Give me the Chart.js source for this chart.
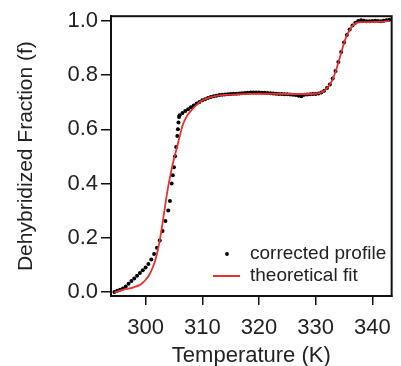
<!DOCTYPE html>
<html>
<head>
<meta charset="utf-8">
<script src="https://cdn.jsdelivr.net/npm/chart.js@4.4.1/dist/chart.umd.min.js"></script>
<style>
  html, body { margin: 0; padding: 0; background: #fff; }
  #wrap { width: 401px; height: 366px; }
</style>
</head>
<body>
<div id="wrap"><canvas id="meltChart" width="401" height="366"></canvas></div>
<script>
// measured profile (temperature in K, dehybridized fraction)
const profileTemps = [
  294.5, 295.0, 295.5, 296.0, 296.5, 297.0, 297.5, 298.0, 298.5, 299.0, 299.5,
  300.0, 300.5, 301.0, 301.5, 302.0, 302.5, 303.0, 303.5, 304.0, 304.3, 304.6,
  304.8, 305.0, 305.2, 305.4, 305.6, 305.7, 305.8, 305.9, 306.0,
  306.5, 307.0, 307.5, 308.0, 308.5, 309.0, 309.5, 310.0, 310.5, 311.0, 311.5,
  312.0, 312.5, 313.0, 313.5, 314.0, 314.5, 315.0, 315.5, 316.0, 316.5, 317.0,
  317.5, 318.0, 318.5, 319.0, 319.5, 320.0, 320.5, 321.0, 321.5, 322.0, 322.5,
  323.0, 323.5, 324.0, 324.5, 325.0, 325.5, 326.0, 326.5, 327.0, 327.5, 328.0,
  328.5, 329.0, 329.5, 330.0, 330.5, 331.0, 331.5, 332.0, 332.5, 333.0, 333.5,
  334.0, 334.5, 335.0, 335.5, 336.0, 336.5, 337.0, 337.5, 338.0, 338.5, 339.0,
  339.5, 340.0, 340.5, 341.0, 341.5, 342.0, 342.5, 343.0
];
const profileValues = [
  0.000, 0.004, 0.008, 0.013, 0.020, 0.030, 0.040, 0.050, 0.060, 0.070, 0.080,
  0.090, 0.103, 0.120, 0.140, 0.163, 0.190, 0.225, 0.262, 0.300, 0.335, 0.400,
  0.430, 0.460, 0.500, 0.535, 0.575, 0.600, 0.625, 0.645, 0.652,
  0.660, 0.667, 0.674, 0.681, 0.688, 0.695, 0.701, 0.707, 0.711, 0.715, 0.719,
  0.722, 0.724, 0.726, 0.727, 0.728, 0.729, 0.730, 0.731, 0.731, 0.732, 0.733,
  0.734, 0.735, 0.736, 0.736, 0.736, 0.736, 0.735, 0.735, 0.734, 0.733, 0.732,
  0.731, 0.730, 0.730, 0.729, 0.729, 0.728, 0.727, 0.726, 0.724, 0.722, 0.727,
  0.728, 0.729, 0.730, 0.730, 0.732, 0.736, 0.742, 0.752, 0.765, 0.787, 0.815,
  0.848, 0.885, 0.920, 0.948, 0.968, 0.983, 0.993, 0.999, 1.002, 1.000, 0.998,
  0.998, 0.999, 1.000, 0.999, 0.998, 1.000, 1.002, 1.004
];

// two-state fit
const fitTemps = [
  294.5, 295.0, 296.0, 297.0, 298.0, 299.0, 299.5, 300.0, 300.5, 301.0, 301.5,
  302.0, 302.5, 303.0, 303.5, 304.0, 304.5, 305.0, 305.5, 306.0, 306.5, 307.0,
  307.5, 308.0, 308.5, 309.0, 309.5, 310.0, 311.0, 312.0, 313.0, 314.0, 316.0,
  318.0, 320.0, 322.0, 324.0, 326.0, 328.0, 330.0, 331.0, 331.5, 332.0, 332.5,
  333.0, 333.5, 334.0, 334.5, 335.0, 335.5, 336.0, 336.5, 337.0, 337.5, 338.0,
  339.0, 340.0, 341.0, 342.0, 343.0
];
const fitValues = [
  -0.003, 0.002, 0.008, 0.012, 0.018, 0.026, 0.034, 0.045, 0.058, 0.078, 0.103,
  0.140, 0.190, 0.255, 0.325, 0.390, 0.443, 0.490, 0.530, 0.572, 0.612, 0.637,
  0.655, 0.668, 0.680, 0.690, 0.699, 0.706, 0.715, 0.721, 0.725, 0.727, 0.729,
  0.730, 0.731, 0.731, 0.730, 0.730, 0.730, 0.731, 0.736, 0.742, 0.752, 0.765,
  0.785, 0.812, 0.845, 0.882, 0.918, 0.946, 0.966, 0.982, 0.990, 0.994, 0.995,
  0.995, 0.995, 0.996, 0.997, 1.000
];

const xTicks = [300, 310, 320, 330, 340];
const yTicks = [0.0, 0.2, 0.4, 0.6, 0.8, 1.0];

const fontFamily = '"Liberation Sans", Arial, sans-serif';

// closes the box on top and right, like the original plot frame
const frameBox = {
  id: 'frameBox',
  afterDraw(chart) {
    const { ctx, chartArea } = chart;
    ctx.save();
    ctx.strokeStyle = '#111';
    ctx.lineWidth = 2;
    ctx.strokeRect(chartArea.left, chartArea.top,
      chartArea.right - chartArea.left, chartArea.bottom - chartArea.top);
    ctx.restore();
  }
};

// legend sits inside the plot, lower right
const innerLegend = {
  id: 'innerLegend',
  afterDraw(chart) {
    const ctx = chart.ctx;
    const sets = chart.data.datasets;
    ctx.save();
    ctx.font = '19px ' + fontFamily;
    ctx.textBaseline = 'middle';
    ctx.textAlign = 'left';
    // dot for the profile
    ctx.beginPath();
    ctx.arc(227, 254, 1.9, 0, Math.PI * 2);
    ctx.fillStyle = '#000';
    ctx.fill();
    ctx.fillStyle = '#222';
    ctx.fillText(sets[0].label, 250, 254);
    // line for the fit
    ctx.strokeStyle = sets[1].borderColor;
    ctx.lineWidth = 2;
    ctx.beginPath();
    ctx.moveTo(213, 276);
    ctx.lineTo(240, 276);
    ctx.stroke();
    ctx.fillText(sets[1].label, 250, 276);
    ctx.restore();
  }
};

function createMeltChart() {
  const ctx = document.getElementById('meltChart').getContext('2d');
  const meltChart = new Chart(ctx, {
    type: 'scatter',
    data: {
      datasets: [{
        label: 'corrected profile',
        data: profileTemps.map((t, i) => ({ x: t, y: profileValues[i] })),
        pointRadius: 2,
        pointBackgroundColor: '#000',
        pointBorderWidth: 0,
        showLine: false,
        order: 2
      }, {
        label: 'theoretical fit',
        data: fitTemps.map((t, i) => ({ x: t, y: fitValues[i] })),
        showLine: true,
        borderColor: '#e8302c',
        borderWidth: 1.8,
        pointRadius: 0,
        cubicInterpolationMode: 'monotone',
        order: 1
      }]
    },
    options: {
      responsive: false,
      animation: false,
      layout: { padding: { top: 16, right: 1, left: 0, bottom: 0 } },
      plugins: {
        legend: { display: false },
        tooltip: { enabled: false }
      },
      scales: {
        x: {
          type: 'linear',
          min: 293.9,
          max: 343.4,
          afterBuildTicks: (scale) => { scale.ticks = xTicks.map(v => ({ value: v })); },
          afterFit: (scale) => { scale.height = 70; },
          grid: { display: true, drawOnChartArea: false, tickLength: 9, color: '#111', lineWidth: 1.5 },
          border: { display: true, color: '#111', width: 2 },
          ticks: { color: '#222', font: { family: fontFamily, size: 22 }, padding: 10, maxRotation: 0 },
          title: { display: true, text: 'Temperature (K)', color: '#222',
            font: { family: fontFamily, size: 22, lineHeight: 0.9 }, padding: { top: 0, bottom: 0 } }
        },
        y: {
          type: 'linear',
          min: -0.015,
          max: 1.017,
          afterBuildTicks: (scale) => { scale.ticks = yTicks.map(v => ({ value: v })); },
          afterFit: (scale) => { scale.width = 111; },
          grid: { display: true, drawOnChartArea: false, tickLength: 10, color: '#111', lineWidth: 1.5 },
          border: { display: true, color: '#111', width: 2 },
          ticks: { color: '#222', font: { family: fontFamily, size: 22 }, padding: 3,
            callback: (v) => v.toFixed(1) },
          title: { display: true, text: 'Dehybridized Fraction (f)', color: '#222',
            font: { family: fontFamily, size: 21, lineHeight: 1 }, padding: { top: 16, bottom: 0 } }
        }
      }
    },
    plugins: [frameBox, innerLegend]
  });
  return meltChart;
}

createMeltChart();
</script>
</body>
</html>
